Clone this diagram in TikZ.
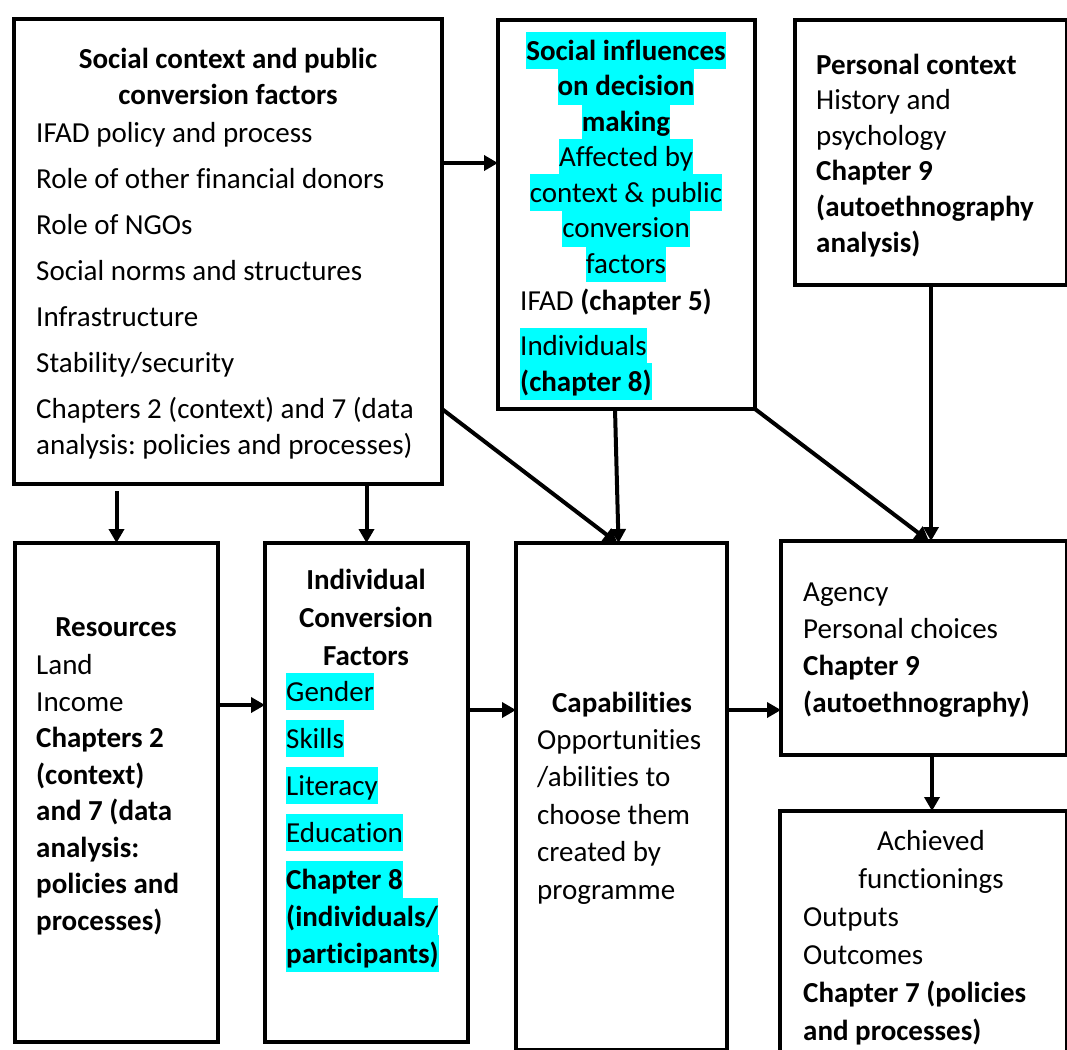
\documentclass[tikz,border=0pt]{standalone}
\usepackage{fontspec}
\setmainfont{Carlito}[Ligatures={NoCommon}]
\usetikzlibrary{arrows.meta}
\definecolor{hlcyan}{RGB}{0,255,255}
\newcommand{\hlc}[1]{{\setlength{\fboxsep}{0pt}\colorbox{hlcyan}{\rule[-9pt]{0pt}{37pt}#1}}}
\newcommand{\bsize}[1]{\fontsize{29}{#1}\selectfont\lineskiplimit=-100pt}
\frenchspacing
\begin{document}
\begin{tikzpicture}[x=1pt,y=1pt,
	blk/.style={draw,line width=4pt,inner sep=0pt,outer sep=0pt,anchor=north west},
	txt/.style={inner sep=0pt,align=left,anchor=base west},
	ctr/.style={inner sep=0pt,align=center,anchor=base},
	arr/.style={line width=4pt,-{Triangle[length=14pt,width=15pt]}}]
	\useasboundingbox (0,0) rectangle (1067,-1049);
	\node[blk,minimum width=428,minimum height=465] (ctx) at (14,-19) {};
	\node[blk,minimum width=257,minimum height=389] (soc) at (498,-20) {};
	\node[blk,minimum width=272,minimum height=265] (pers) at (795,-20) {};
	\node[blk,minimum width=203,minimum height=499] (res) at (15,-543) {};
	\node[blk,minimum width=203,minimum height=499] (icf) at (265,-543) {};
	\node[blk,minimum width=211,minimum height=507] (cap) at (516,-543) {};
	\node[blk,minimum width=286,minimum height=214] (agn) at (781,-541) {};
	\node[blk,minimum width=287,minimum height=242] (ach) at (780,-811) {};
	\node[ctr,font=\bsize{36}\bfseries] (ctxhead) at (228,-104) {Social context and public\\conversion factors};
	\node[txt,font=\bsize{36}] (ctxbody) at (36,-454) {IFAD policy and process\\[10pt]Role of other financial donors\\[10pt]Role of NGOs\\[10pt]Social norms and structures\\[10pt]Infrastructure\\[10pt]Stability/security\\[10pt]Chapters 2 (context) and 7 (data\\analysis: policies and processes)};
	\node[ctr,font=\bsize{35.5}] (sochead) at (626,-273) {\hlc{\textbf{Social influences}}\\\hlc{\textbf{on decision}}\\\hlc{\textbf{making}}\\\hlc{Affected by}\\\hlc{context \& public}\\\hlc{conversion}\\\hlc{factors}};
	\node[txt,font=\bsize{35.5}] (socbody) at (520,-391) {IFAD \textbf{(chapter 5)}\\[10pt]\hlc{Individuals}\\\hlc{\textbf{(chapter 8)}}};
	\node[txt,font=\bsize{35.6}] (perstxt) at (816,-252) {\textbf{Personal context}\\History and\\psychology\\\textbf{Chapter 9}\\\textbf{(autoethnography}\\\textbf{analysis)}};
	\node[ctr,font=\bsize{36.5}\bfseries] (reshead) at (116,-636) {Resources};
	\node[txt,font=\bsize{36.5}] (resbody) at (36,-930) {Land\\Income\\\textbf{Chapters 2}\\\textbf{(context)}\\\textbf{and 7 (data}\\\textbf{analysis:}\\\textbf{policies and}\\\textbf{processes)}};
	\node[ctr,font=\bsize{38}\bfseries] (icfhead) at (366,-665) {Individual\\Conversion\\Factors};
	\node[txt,font=\bsize{37}] (icfbody) at (286,-963) {\hlc{Gender}\\[10pt]\hlc{Skills}\\[10pt]\hlc{Literacy}\\[10pt]\hlc{Education}\\[10pt]\hlc{\textbf{Chapter 8}}\\\hlc{\textbf{(individuals/}}\\\hlc{\textbf{participants)}}};
	\node[ctr,font=\bsize{37.5}\bfseries] (caphead) at (622,-712) {Capabilities};
	\node[txt,font=\bsize{37.5}] (capbody) at (537,-899) {Opportunities\\/abilities to\\choose them\\created by\\programme};
	\node[txt,font=\bsize{36.7}] (agntxt) at (803,-712) {Agency\\Personal choices\\\textbf{Chapter 9}\\\textbf{(autoethnography)}};
	\node[ctr,font=\bsize{38}] (achhead) at (931,-888) {Achieved\\functionings};
	\node[txt,font=\bsize{37.7}] (achbody) at (803,-1040) {Outputs\\Outcomes\\\textbf{Chapter 7 (policies}\\\textbf{and processes)}};
	\draw[arr] ([yshift=88.5pt]ctx.east) -- ([yshift=88.5pt]ctx.east -| soc.west);
	\draw[arr] ([yshift=-7pt]res.north |- ctx.south) -- (res.north);
	\draw[arr] (icf.north |- ctx.south) -- (icf.north);
	\draw[arr] ([yshift=87.5pt]res.east) -- ([yshift=87.5pt]res.east -| icf.west);
	\draw[arr] ([yshift=82.5pt]icf.east) -- ([yshift=82.5pt]icf.east -| cap.west);
	\draw[arr] ([yshift=86.5pt]cap.east) -- ([yshift=86.5pt]cap.east -| agn.west);
	\draw[arr] ([yshift=-157.5pt]ctx.east) -- ([xshift=-4pt]cap.north);
	\draw[arr] ([xshift=-11.5pt]soc.south) -- ([xshift=-3pt]cap.north);
	\draw[arr] (soc.south east) -- ([xshift=5pt]agn.north);
	\draw[arr] (pers.south) -- (agn.north -| pers.south);
	\draw[arr] ([xshift=8pt]agn.south) -- ([xshift=8pt]agn.south |- ach.north);
\end{tikzpicture}
\end{document}
